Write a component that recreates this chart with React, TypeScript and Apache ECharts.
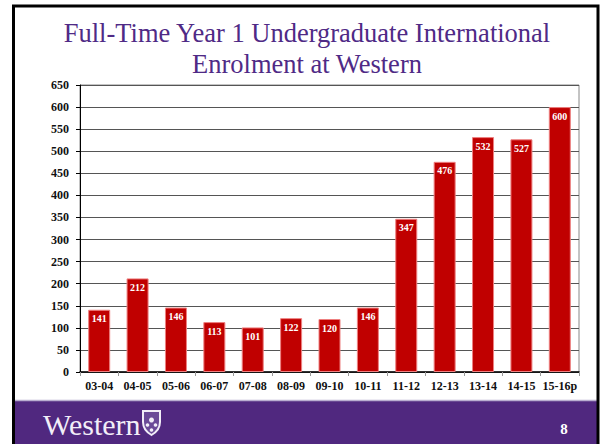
import React, { useEffect, useRef } from "react";
import * as echarts from "echarts";

const categories = ["03-04", "04-05", "05-06", "06-07", "07-08", "08-09", "09-10", "10-11", "11-12", "12-13", "13-14", "14-15", "15-16p"];
const enrolment = [141, 212, 146, 113, 101, 122, 120, 146, 347, 476, 532, 527, 600];
const titleLines = ["Full-Time Year 1 Undergraduate International", "Enrolment at Western"];
const footerText = "Western";
const pageNumber = "8";

const shieldPath = "M0 0 L17 0 L17 11 C17 18 12 22 8.5 24 C5 22 0 18 0 11 Z";
echarts.graphic.registerShape("shield", (echarts.graphic as any).extendPath(shieldPath, {}));

export default function App() {
  const ref = useRef<HTMLDivElement>(null);
  useEffect(() => {
    if (!ref.current) return;
    const chart = echarts.init(ref.current, null, { renderer: "svg" });
    const serif = "Liberation Serif";
    chart.setOption({
      animation: false,
      backgroundColor: "#ffffff",
      grid: {
        left: 80,
        right: 23,
        top: 85,
        bottom: 72,
        show: true,
        borderColor: "#888",
        borderWidth: 1,
        backgroundColor: "transparent",
      },
      xAxis: {
        type: "category",
        data: categories,
        axisLine: { lineStyle: { color: "#000", width: 1.5 } },
        axisTick: { show: true, length: 4, lineStyle: { color: "#999" } },
        axisLabel: { interval: 0, color: "#111", fontFamily: serif, fontWeight: "bold", fontSize: 12, margin: 8 },
      },
      yAxis: {
        type: "value",
        min: 0,
        max: 650,
        interval: 50,
        axisLine: { show: true, lineStyle: { color: "#000", width: 1 } },
        axisTick: { show: true, length: 4, lineStyle: { color: "#000" } },
        axisLabel: { color: "#111", fontFamily: serif, fontWeight: "bold", fontSize: 12, margin: 11 },
        splitLine: { show: true, lineStyle: { color: "#555", width: 1 } },
      },
      series: [
        {
          type: "bar",
          data: enrolment,
          barWidth: 22,
          itemStyle: { color: "#c00000", borderColor: "#ee8080", borderWidth: 1 },
          label: {
            show: true,
            position: "insideTop",
            distance: 4,
            color: "#fff",
            fontFamily: serif,
            fontWeight: "bold",
            fontSize: 10,
          },
        },
      ],
      graphic: [
        {
          type: "text",
          z: 10,
          style: {
            text: titleLines.join("\n"),
            x: 307,
            y: 17,
            align: "center",
            verticalAlign: "top",
            fill: "#4f2a86",
            fontFamily: serif,
            fontSize: 26.5,
            fontWeight: "normal",
            lineHeight: 31,
          },
        },
        {
          type: "rect",
          z: 5,
          shape: { x: 13, y: 401, width: 586, height: 43 },
          style: { fill: "#50287f" },
        },
        {
          type: "line",
          z: 6,
          shape: { x1: 15, y1: 400.5, x2: 597, y2: 400.5 },
          style: { stroke: "#b9aed0", lineWidth: 1.5 },
        },
        {
          type: "rect",
          z: 20,
          shape: { x: 13.5, y: 6, width: 584.5, height: 440 },
          style: { fill: "none", stroke: "#000", lineWidth: 3 },
        },
        {
          type: "text",
          z: 10,
          style: {
            text: footerText,
            x: 43,
            y: 424,
            align: "left",
            verticalAlign: "middle",
            fill: "#f2eef8",
            fontFamily: serif,
            fontSize: 30,
          },
        },
        {
          type: "shield",
          z: 10,
          x: 143,
          y: 411,
          style: { fill: "#6b4a98", stroke: "#f2eef8", lineWidth: 2 },
        },
        {
          type: "circle",
          z: 11,
          shape: { cx: 151.5, cy: 420, r: 2.5 },
          style: { fill: "#f2eef8" },
        },
        {
          type: "circle",
          z: 11,
          shape: { cx: 147.5, cy: 425, r: 1.8 },
          style: { fill: "#f2eef8" },
        },
        {
          type: "circle",
          z: 11,
          shape: { cx: 155.5, cy: 425, r: 1.8 },
          style: { fill: "#f2eef8" },
        },
        {
          type: "circle",
          z: 11,
          shape: { cx: 151.5, cy: 430, r: 1.8 },
          style: { fill: "#f2eef8" },
        },
        {
          type: "text",
          z: 10,
          style: {
            text: pageNumber,
            x: 564,
            y: 429,
            align: "center",
            verticalAlign: "middle",
            fill: "#ffffff",
            fontFamily: serif,
            fontWeight: "bold",
            fontSize: 15,
          },
        },
      ],
    });
    return () => chart.dispose();
  }, []);
  return <div ref={ref} style={{ position: "fixed", left: 0, top: 0, width: 602, height: 444 }} />;
}
